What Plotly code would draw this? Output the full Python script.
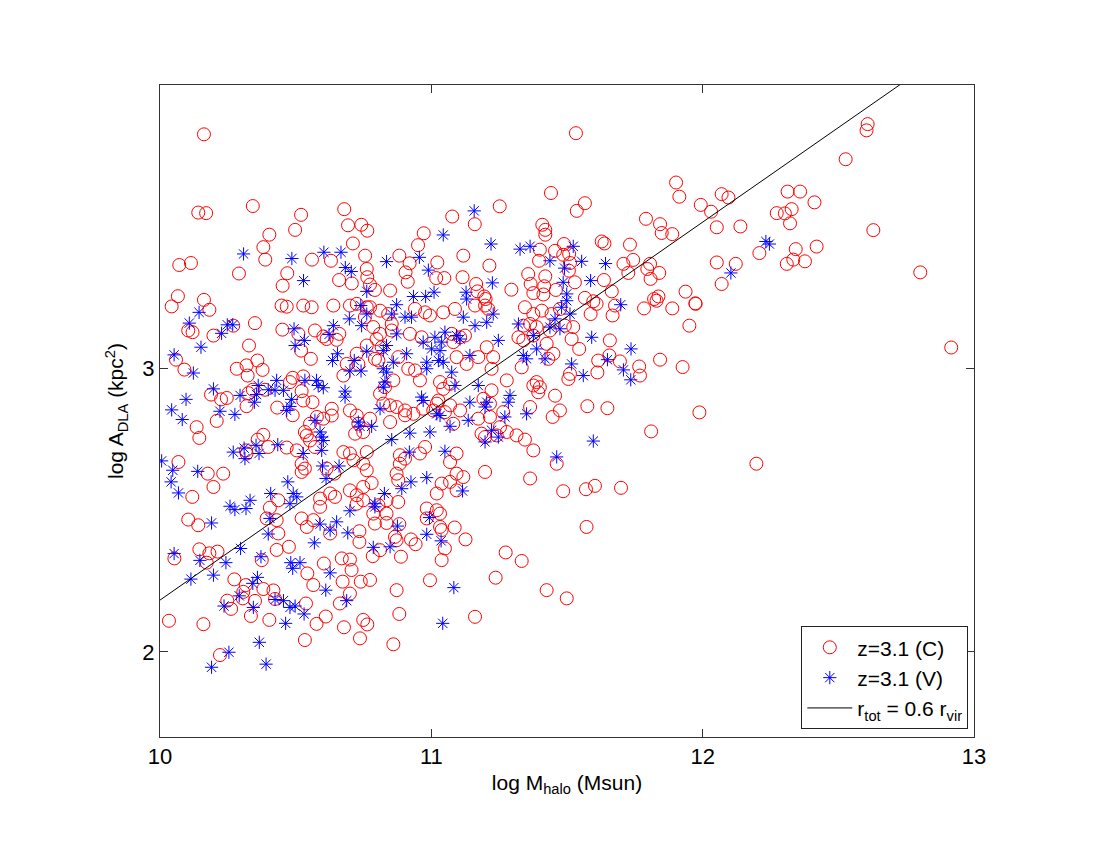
import plotly.graph_objects as go

# log M_halo, log A_DLA  -- z=3.1 (C)
red_points = [
    (10.162,3.826),(10.141,3.550),(10.170,3.548),(10.342,3.573),(10.520,3.542),(10.679,3.562),(10.498,3.489),
    (10.403,3.472),(10.381,3.428),(10.388,3.384),(10.071,3.365),(10.114,3.372),(10.291,3.335),(10.469,3.336),
    (10.452,3.292),(10.560,3.384),(10.630,3.380),(10.693,3.505),(10.742,3.507),(10.764,3.486),(10.711,3.441),
    (10.756,3.398),(10.660,3.312),(10.707,3.300),(10.762,3.351),(10.066,3.255),(10.043,3.219),(10.162,3.242),
    (10.182,3.207),
    (11.533,3.830),(11.441,3.619),(11.252,3.572),(11.077,3.536),(11.160,3.509),(11.409,3.507),(11.420,3.489),
    (11.420,3.472),(10.972,3.477),(10.951,3.435),(10.882,3.398),(10.920,3.371),(10.905,3.339),(10.913,3.306),
    (11.022,3.374),(11.018,3.319),(11.048,3.319),(11.118,3.398),(11.214,3.363),(11.115,3.322),(11.165,3.298),
    (11.170,3.272),(11.195,3.254),(11.200,3.245),(11.295,3.278),(11.357,3.333),(11.366,3.298),(11.376,3.266),
    (11.420,3.325),(11.416,3.290),(11.413,3.261),(11.400,3.419),(11.397,3.380),(11.456,3.415),(11.489,3.439),
    (11.486,3.401),(11.508,3.404),(11.511,3.372),(11.507,3.345),(11.459,3.277),(10.764,3.322),(10.774,3.296),
    (10.792,3.277),(10.848,3.275),
    (11.566,3.583),(11.536,3.556),(11.902,3.656),(11.914,3.606),(11.791,3.528),(11.843,3.509),(11.849,3.478),
    (11.888,3.474),(11.993,3.577),(12.031,3.553),(12.070,3.615),(12.095,3.603),(12.052,3.498),(12.139,3.501),
    (12.273,3.548),(11.628,3.448),(11.638,3.441),(11.732,3.437),(11.744,3.383),(11.708,3.369),(11.726,3.337),
    (11.806,3.369),(11.796,3.351),(11.840,3.337),(11.808,3.316),(11.636,3.312),(11.665,3.272),(12.052,3.374),
    (12.122,3.369),(12.070,3.298),(12.209,3.407),(11.937,3.271),(11.973,3.230),(11.821,3.245),(11.837,3.254),
    (11.566,3.249),(11.597,3.237),(11.529,3.304),
    (12.608,3.862),(12.604,3.840),(12.527,3.738),(12.313,3.624),(12.359,3.624),(12.412,3.586),(12.328,3.562),
    (12.303,3.547),(12.322,3.512),(12.629,3.488),(12.420,3.430),(12.343,3.421),(12.334,3.384),(12.310,3.369),
    (12.377,3.378),(12.802,3.339),(12.916,3.074),
    (11.587,3.192),(11.668,3.187),(11.784,3.212),(11.888,3.212),(11.974,3.228),(11.830,3.239),(11.609,3.228),
    (11.677,3.222),(11.951,3.151),(11.658,3.099),(11.545,3.069),(11.615,3.028),(11.656,3.046),(11.695,3.025),
    (11.612,2.986),(11.766,3.007),(11.769,2.975),(11.843,3.031),(11.926,3.005),(11.575,2.867),(11.649,2.860),
    (11.988,2.845),(11.810,2.778),(12.198,2.664),(11.570,2.574),(11.603,2.586),(11.699,2.579),(11.572,2.441),
    (10.104,3.134),(10.120,3.128),(10.197,3.116),(10.270,3.151),(10.350,3.160),(10.328,3.081),(10.059,3.031),
    (10.090,2.996),(10.283,2.999),(10.319,3.011),(10.323,2.975),(10.359,3.028),(10.378,2.995),(10.188,2.908),
    (10.225,2.891),(10.246,2.896),(10.342,2.925),(10.326,2.913),(10.387,2.925),(10.319,2.867),(10.209,2.815),
    (10.135,2.793),(10.145,2.755),(10.381,2.766),(10.360,2.749),(10.399,2.723),(10.319,2.700),(10.317,2.711),
    (10.467,2.721),(10.068,2.670),(10.176,2.629),(10.233,2.629),(10.197,2.582),(10.119,2.547),
    (10.448,3.222),(10.467,3.218),(10.528,3.222),(10.559,3.216),(10.639,3.222),(10.700,3.222),(10.725,3.228),
    (10.762,3.216),(10.451,3.137),(10.510,3.122),(10.571,3.134),(10.602,3.113),(10.614,3.104),(10.651,3.101),
    (10.661,3.122),(10.520,3.063),(10.556,3.034),(10.676,2.975),(10.725,3.052),(10.688,3.016),(10.731,3.016),
    (10.528,2.972),(10.489,2.967),(10.479,2.952),(10.522,2.920),(10.562,2.881),(10.528,2.887),(10.432,2.862),
    (10.489,2.835),(10.633,2.858),(10.633,2.834),(10.602,2.823),(10.578,2.829),(10.553,2.805),(10.534,2.776),
    (10.541,2.764),(10.553,2.746),(10.571,2.723),(10.700,2.852),(10.725,2.834),(10.731,2.805),(10.719,2.770),
    (10.749,2.776),(10.504,2.711),(10.522,2.664),(10.534,2.647),(10.522,2.635),(10.676,2.705),(10.700,2.700),
    (10.713,2.676),(10.614,2.647),(10.643,2.629),(10.762,2.705),(10.749,2.664),(10.762,2.641),(10.627,2.559),
    (10.645,2.547),(10.590,2.541),(10.590,2.512),(10.700,2.570),(10.725,2.553),(10.749,2.582),(10.749,2.535),
    (10.725,2.523),(10.436,2.535),(10.405,2.509),(10.393,2.471),(10.430,2.465),(10.522,2.471),(10.565,2.465),
    (10.541,2.441),(10.104,2.467),(10.141,2.447),
    (10.145,2.362),(10.182,2.348),(10.212,2.354),(10.172,2.315),(10.053,2.330),(10.274,2.256),(10.316,2.236),
    (10.307,2.212),(10.305,2.189),(10.248,2.181),(10.262,2.152),(10.375,2.324),(10.381,2.222),(10.350,2.180),
    (10.335,2.127),(10.430,2.360),(10.475,2.371),(10.418,2.217),(10.424,2.187),(10.403,2.113),(10.543,2.277),
    (10.565,2.236),(10.538,2.171),(10.611,2.125),(10.577,2.099),(10.534,2.042),(10.604,2.312),(10.673,2.248),
    (10.663,2.171),(10.700,2.206),(10.706,2.289),(10.670,2.330),(10.700,2.326),(10.740,2.248),(10.735,2.388),
    (10.735,2.426),(10.749,2.113),(10.678,2.087),(10.737,2.048),(10.033,2.110),(10.160,2.098),(10.221,1.989),
    (10.627,2.418),(10.436,2.418),
    (10.792,2.453),(10.835,2.455),(10.882,2.451),(11.032,2.441),(11.038,2.430),(11.086,2.439),(10.866,2.406),
    (10.872,2.394),(10.925,2.397),(10.942,2.380),(10.811,2.359),(10.784,2.338),(10.888,2.336),(11.050,2.365),
    (11.038,2.324),(11.126,2.397),(11.274,2.351),(11.333,2.321),(11.237,2.262),(11.425,2.218),(11.499,2.189),
    (10.995,2.253),(10.774,2.254),(10.872,2.218),(10.882,2.134),(11.161,2.124),(10.764,2.097),(10.860,2.027),
    (10.774,3.216),(10.811,3.204),(10.841,3.192),(10.755,3.181),(10.854,3.157),(10.854,3.134),(10.811,3.122),
    (10.786,3.146),(10.798,3.104),(10.940,3.210),(10.977,3.198),(10.995,3.187),(11.044,3.198),(11.087,3.210),
    (11.161,3.222),(11.198,3.222),(11.210,3.210),(10.921,3.122),(10.964,3.110),(11.075,3.122),(11.106,3.110),
    (11.124,3.116),(11.081,3.093),(10.762,3.081),(10.817,3.075),(10.792,3.034),(10.805,3.028),(10.878,3.040),
    (10.915,2.999),(10.940,2.993),(11.093,3.040),(11.173,3.040),(11.130,3.016),(11.204,3.075),(11.228,3.040),
    (11.222,2.999),(10.860,2.958),(10.958,2.958),(10.829,2.934),(10.811,2.911),(11.032,2.952),(11.069,2.946),
    (11.044,2.928),(11.026,2.887),(11.278,2.958),(11.222,2.923),(11.192,2.893),(11.216,2.876),(10.823,2.876),
    (10.848,2.870),(10.872,2.864),(10.903,2.852),(10.903,2.835),(10.934,2.840),(10.970,2.858),(11.020,2.876),
    (11.007,2.852),(11.050,2.846),(11.069,2.870),(11.106,2.852),(11.081,2.805),(10.848,2.811),(10.774,2.823),
    (11.173,2.823),(11.216,2.829),(11.265,2.846),(11.253,2.793),(11.278,2.776),(11.185,2.770),(11.198,2.758),
    (11.241,2.764),(11.314,2.764),(11.345,2.749),(11.376,2.711),(11.345,3.216),(11.376,3.192),(11.407,3.204),
    (11.443,3.192),(11.474,3.210),(11.339,3.151),(11.364,3.157),(11.388,3.146),(11.437,3.134),(11.492,3.151),
    (11.523,3.146),(11.517,3.104),(11.321,3.110),(11.339,3.099),(11.376,3.116),(11.425,3.087),(11.450,3.052),
    (11.431,3.034),(11.333,3.004),(11.511,2.981),(11.505,2.963),(11.388,2.952),(11.400,2.934),(11.394,2.916),
    (11.376,2.940),(11.456,2.904),(11.474,2.852),(11.447,2.829),(11.364,2.864),(10.977,2.723),(10.958,2.700),
    (10.884,2.694),(10.903,2.682),(10.884,2.664),(11.069,2.670),(11.093,2.700),(11.093,2.629),(11.118,2.617),
    (11.198,2.635),(11.364,2.612),(11.462,2.664),(11.486,2.567),(10.780,2.596),(10.872,2.629),(10.878,2.606),
    (11.038,2.594),(11.069,2.600),(11.020,2.559),(11.093,2.570),(10.878,2.529),(10.835,2.535),(10.805,2.518),
    (10.786,2.488),(10.835,2.488),(10.983,2.506),(11.020,2.500),(11.032,2.488),(10.983,2.471),
]

# z=3.1 (V)
blue_points = [
    (10.308,3.404),(10.486,3.388),(10.604,3.410),(10.667,3.410),(10.683,3.356),(10.705,3.342),(10.529,3.310),
    (10.762,3.272),
    (11.158,3.556),(11.044,3.471),(11.220,3.439),(11.327,3.421),(11.364,3.431),(10.835,3.377),(10.956,3.392),
    (10.989,3.347),(11.437,3.380),(11.491,3.354),(11.523,3.431),(11.225,3.302),(11.486,3.304),(10.934,3.254),
    (10.979,3.254),(11.010,3.269),(11.128,3.269),(11.130,3.245),(10.872,3.225),(11.499,3.263),(11.499,3.239),
    (11.480,3.216),
    (11.554,3.378),(11.642,3.370),(11.587,3.310),(11.698,3.225),(12.104,3.337),(12.233,3.448),(12.246,3.439),
    (11.591,3.110),(11.736,3.069),(11.649,3.031),(11.708,2.995),(11.735,2.960),(11.560,2.975),(11.597,2.744),
    (10.144,3.198),(10.108,3.160),(10.248,3.154),(10.268,3.154),(10.227,3.124),(10.151,3.075),(10.052,3.048),
    (10.123,2.984),(10.197,2.928),(10.096,2.891),(10.043,2.854),(10.082,2.820),(10.221,2.849),(10.276,2.838),
    (10.295,2.905),(10.356,2.908),(10.348,2.881),(10.362,2.940),(10.399,2.925),(10.424,2.923),(10.455,2.923),
    (10.430,2.958),(10.485,2.891),(10.479,2.866),(10.467,2.852),(10.494,3.140),(10.498,3.081),(10.532,3.099),
    (10.639,3.151),(10.623,3.120),(10.698,3.175),(10.743,3.151),(10.740,3.222),(10.762,3.192),(10.654,3.052),
    (10.636,3.028),(10.716,3.028),(10.762,3.061),(10.700,2.991),(10.741,2.991),(10.534,2.958),(10.577,2.958),
    (10.583,2.940),(10.602,2.932),(10.682,2.920),(10.682,2.899),(10.571,2.817),(10.590,2.776),(10.596,2.758),
    (10.602,2.746),(10.596,2.711),(10.528,2.700),(10.599,2.656),(10.660,2.656),(10.731,2.811),(10.737,2.796),
    (10.434,2.731),(10.354,2.729),(10.310,2.719),(10.270,2.705),(10.365,2.700),(10.313,2.682),(10.006,2.674),
    (10.047,2.641),(10.041,2.600),(10.139,2.637),(10.068,2.561),(10.471,2.600),(10.612,2.612),(10.408,2.559),
    (10.491,2.559),(10.504,2.547),(10.479,2.523),(10.332,2.535),(10.317,2.506),(10.276,2.502),(10.258,2.514),
    (10.405,2.471),(10.190,2.455),(10.700,2.498),(10.590,2.451),(10.651,2.459),
    (10.052,2.347),(10.147,2.323),(10.114,2.257),(10.197,2.271),(10.243,2.315),(10.297,2.365),(10.372,2.336),
    (10.359,2.263),(10.342,2.242),(10.292,2.198),(10.236,2.162),(10.344,2.157),(10.424,2.185),(10.455,2.181),
    (10.479,2.157),(10.498,2.162),(10.531,2.134),(10.463,2.101),(10.482,2.315),(10.489,2.295),(10.516,2.315),
    (10.569,2.385),(10.627,2.279),(10.611,2.218),(10.688,2.181),(10.692,2.420),(10.627,2.430),(10.399,2.416),
    (10.366,2.034),(10.254,1.999),(10.190,1.946),(10.391,1.957),
    (10.983,2.415),(11.036,2.392),(10.786,2.369),(10.848,2.371),(11.083,2.227),(11.042,2.101),
    (10.854,3.192),(10.903,3.181),(10.927,3.181),(10.872,3.122),(10.835,3.081),(10.823,3.063),(11.118,3.181),
    (11.161,3.151),(11.204,3.163),(11.228,3.192),(10.970,3.093),(11.013,3.110),(11.050,3.128),(11.093,3.116),
    (11.106,3.104),(11.038,3.093),(11.001,3.069),(11.032,3.063),(11.026,3.028),(11.044,3.022),(10.983,3.022),
    (10.983,2.999),(10.909,3.052),(10.860,3.022),(10.823,2.999),(10.835,2.987),(10.829,2.952),(10.823,2.934),
    (11.075,2.987),(11.087,2.940),(11.142,3.046),(11.173,2.940),(11.247,3.099),(11.321,3.157),(11.376,3.116),
    (11.437,3.146),(11.474,3.140),(11.456,3.175),(11.511,3.192),(11.339,3.046),(11.351,3.034),(11.388,3.069),
    (11.419,3.034),(11.517,3.016),(10.964,2.899),(10.970,2.887),(11.020,2.840),(11.032,2.834),(10.811,2.858),
    (10.780,2.796),(11.142,2.881),(11.204,2.881),(11.198,2.864),(11.290,2.905),(11.284,2.881),(11.271,2.829),
    (11.351,2.840),(11.136,2.817),(11.069,2.796),(10.995,2.776),(10.921,2.772),(10.854,2.749),(11.222,2.782),
    (11.247,2.758),(11.198,2.741),(10.919,2.705),(11.050,2.708),(11.462,2.688),(10.983,2.615),(10.925,2.600),
    (10.891,2.576),(11.115,2.568),(10.827,2.559),(10.792,2.523),(10.792,2.512),(10.993,2.474),(10.875,2.444),
]

# r_tot = 0.6 r_vir line (ends)
line_x = [10.0, 13.0]
line_y = [2.183, 4.183]

red_x, red_y = zip(*red_points)
blue_x, blue_y = zip(*blue_points)

font = "Liberation Sans, Arial, Helvetica, sans-serif"

fig = go.Figure()
fig.add_trace(go.Scatter(x=red_x, y=red_y, mode="markers", name="z=3.1 (C)",
                         marker=dict(symbol="circle-open", size=13, color="#ff0000",
                                     line=dict(width=1, color="#ff0000"))))
fig.add_trace(go.Scatter(x=blue_x, y=blue_y, mode="markers", name="z=3.1 (V)",
                         marker=dict(symbol="asterisk-open", size=11, color="#0000ff",
                                     line=dict(width=1, color="#0000ff"))))
fig.add_trace(go.Scatter(x=line_x, y=line_y, mode="lines",
                         name="r<sub>tot</sub> = 0.6 r<sub>vir</sub>",
                         line=dict(color="black", width=1)))

axis_common = dict(showline=True, linecolor="#333", linewidth=1, mirror="ticks",
                   ticks="inside", ticklen=8, tickcolor="#333", showgrid=False,
                   zeroline=False, tickfont=dict(size=22, family=font, color="black"))

fig.update_xaxes(range=[10, 13], tickvals=[10, 11, 12, 13],
                 title=dict(text="log M<sub>halo</sub> (Msun)", font=dict(size=21, family=font), standoff=6),
                 **axis_common)
fig.update_yaxes(range=[1.7, 4.0], tickvals=[2, 3],
                 title=dict(text="log A<sub>DLA</sub> (kpc<sup>2</sup>)", font=dict(size=21, family=font), standoff=12),
                 **axis_common)

# page body adds an 8px offset, so margins are shifted to keep the plot box in place
fig.update_layout(
    width=1100, height=850,
    margin=dict(l=152, r=134, t=77, b=121),
    plot_bgcolor="white", paper_bgcolor="white",
    font=dict(family=font, color="black"),
    legend=dict(x=0.993, y=0.012, xanchor="right", yanchor="bottom",
                bgcolor="white", bordercolor="#222", borderwidth=1,
                itemwidth=45,
                font=dict(size=21, family=font), tracegroupgap=0),
    showlegend=True,
)

fig.write_html("out.html")
